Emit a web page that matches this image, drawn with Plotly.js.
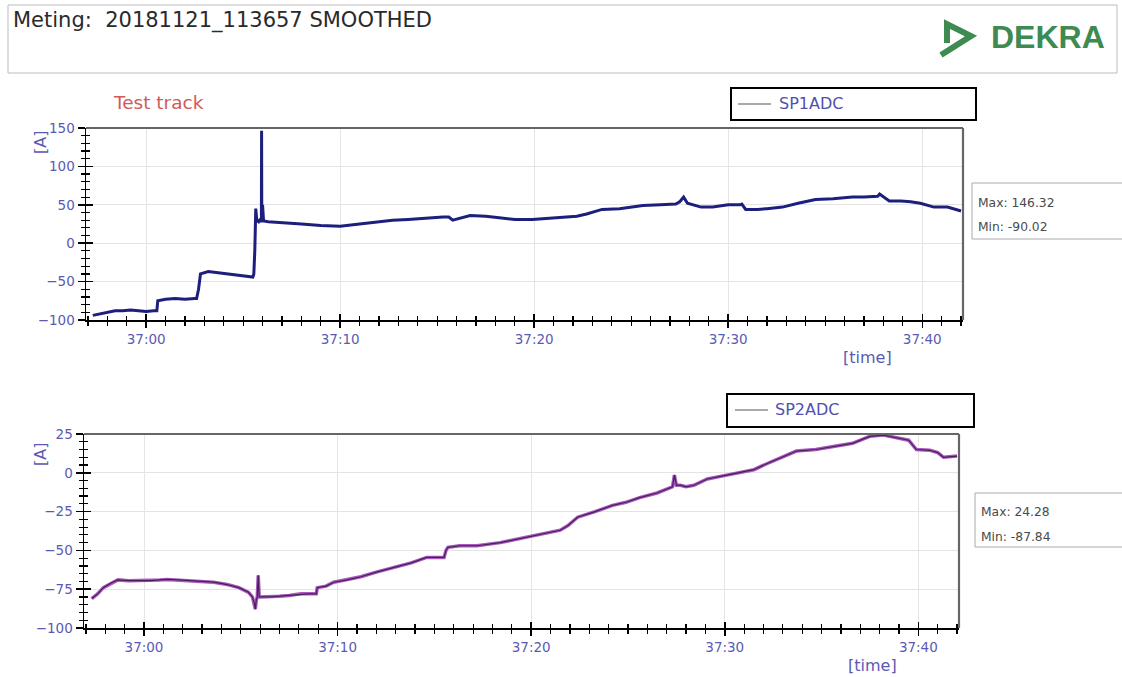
<!DOCTYPE html>
<html>
<head>
<meta charset="utf-8">
<script src="https://cdn.plot.ly/plotly-3.0.1.min.js"></script>
<style>
html,body{margin:0;padding:0;background:#fff;}
#chart{width:1122px;height:677px;}
</style>
</head>
<body>
<div id="chart"></div>
<script>
// ---- data (seconds relative to 11:37:00, values in A) ----
var sp1Time = [-2.75,-2.4,-2.0,-1.6,-1.2,-0.8,-0.4,0.0,0.4,0.55,0.6,1.0,1.5,2.0,2.5,2.6,2.7,2.8,3.2,3.8,4.4,5.0,5.5,5.55,5.6,5.65,5.7,5.8,5.85,5.9,5.94,5.95,5.96,6.0,6.05,6.3,7.0,8.0,9.0,10.0,11.0,12.0,12.7,13.5,14.5,15.3,15.6,15.8,16.7,17.5,18.2,19.0,19.9,21.0,21.7,22.2,22.7,23.5,24.4,25.0,25.6,26.5,27.3,27.5,27.7,27.9,28.6,29.2,30.0,30.6,30.7,30.9,31.5,32.0,32.8,33.6,34.5,35.4,36.4,37.0,37.7,37.8,38.3,38.9,39.4,39.9,40.6,41.3,42.0];
var sp1Values = [-94,-92,-90,-88,-88,-87,-88,-89,-88,-88,-75,-73,-72,-73,-72,-72,-60,-40,-37,-39,-41,-43,-44,-40,-10,45,30,28,30,29,29,146.32,29,50,29,28,27,25,23,22,25,28,30,31,33,34,34,30,36,35,33,31,31,33,34,35,38,44,45,47,49,50,51,54,60,52,47,47,50,50,51,44,44,45,47,52,57,58,60,60,61,64,55,55,54,52,47,47,42,43];

var sp2Time = [-2.7,-2.4,-2.1,-1.7,-1.35,-0.8,0.0,0.35,0.8,1.2,1.8,2.4,2.9,3.6,4.3,4.9,5.4,5.6,5.7,5.75,5.8,5.85,5.9,5.95,6.0,6.5,7.0,7.5,8.1,8.5,8.9,8.95,9.4,9.8,10.5,11.2,12.0,12.9,13.8,14.6,15.5,15.6,15.7,16.3,17.2,18.4,19.2,19.9,20.8,21.5,21.9,22.4,23.3,24.2,24.9,25.6,26.5,27.3,27.4,27.5,27.7,28.0,28.4,29.1,30.1,30.9,31.5,32.2,33.0,33.7,34.7,35.6,36.6,37.2,37.5,38.2,39.0,39.5,39.9,40.6,41.0,41.3,42.0];
var sp2Values = [-81,-78,-74,-71,-69,-69.5,-69.5,-69.5,-69,-68.7,-69,-69.5,-70,-70.5,-72,-74,-77,-80,-84,-87.84,-82,-80,-66,-80,-80,-80,-79.5,-79,-78,-78,-78,-74,-73,-70.5,-69,-67,-64,-61,-58,-54.5,-54.5,-50,-48,-47,-47,-45,-43,-41,-39,-37,-34,-28.6,-25,-21,-19,-16,-13,-9,-1.5,-8,-8,-9,-8,-4,-1.5,0.4,2,6,10,14,15,17,19,22,23.5,24.28,22,21,15,14.5,13,10,10.8];

var seriesNames = ['SP1ADC','SP2ADC'];
var statsText1 = ['Max: 146.32','Min: -90.02'];
var statsText2 = ['Max: 24.28','Min: -87.84'];
var titleText = 'Meting:  20181121_113657 SMOOTHED';

// ---- helpers ----
function fmt(t){
  var total = 37*60 + t;
  var m = Math.floor(total/60);
  var s = total - 60*m;
  return '2018-11-21 11:' + (m<10?'0':'') + m + ':' + (s<10?'0':'') + s.toFixed(3);
}
var W = 1122, H = 677;
function px(x){ return x / W; }
function py(y){ return 1 - y / H; }

var xRange = [fmt(-3.1), fmt(42.1)];
var blue = '#5a5ab4';
var font = 'DejaVu Sans, Liberation Sans, Arial, sans-serif';

var traces = [
  {x: sp1Time.map(fmt), y: sp1Values, type:'scatter', mode:'lines', xaxis:'x', yaxis:'y',
   line:{color:'#1c1f7c', width:3}, showlegend:false, hoverinfo:'skip'},
  {x: sp2Time.map(fmt), y: sp2Values, type:'scatter', mode:'lines', xaxis:'x2', yaxis:'y2',
   line:{color:'#a65bbd', width:3.5}, showlegend:false, hoverinfo:'skip'},
  {x: sp2Time.map(fmt), y: sp2Values, type:'scatter', mode:'lines', xaxis:'x2', yaxis:'y2',
   line:{color:'#4d1c5c', width:1.2}, showlegend:false, hoverinfo:'skip'},
  {x:[null], y:[null], xaxis:'x3', yaxis:'y3', type:'scatter', mode:'lines', showlegend:false, hoverinfo:'skip'},
  {x:[null], y:[null], xaxis:'x4', yaxis:'y4', type:'scatter', mode:'lines', showlegend:false, hoverinfo:'skip'}
];

function xAxisBase(domain, anchor, ticksDir, main){
  return {
    type:'date', range:xRange, domain:domain, anchor:anchor,
    tick0:'2018-11-21 11:37:00', dtick:10000, tickformat:'%M:%S',
    ticks:ticksDir, ticklen:6, tickwidth:1.5, tickcolor:'#000',
    minor:{dtick:1000, ticks:ticksDir, ticklen:4, tickwidth:1.2, tickcolor:'#000', showgrid:false},
    showgrid: main, gridcolor:'#e4e4e4', gridwidth:1,
    showline: main, linecolor:'#000', linewidth:1.5,
    showticklabels: main, tickfont:{family:font, size:13.5, color:blue},
    zeroline:false, fixedrange:true
  };
}
function yAxisBase(domain, anchor, range, dtick, mdtick, ticksDir, main){
  return {
    range:range, domain:domain, anchor:anchor, dtick:dtick, tick0:0,
    ticks:ticksDir, ticklen:7, tickwidth:1.5, tickcolor:'#000',
    minor:{dtick:mdtick, ticks:ticksDir, ticklen:4, tickwidth:1.2, tickcolor:'#000', showgrid:false},
    showgrid: main, gridcolor:'#e4e4e4', gridwidth:1,
    showline: main, linecolor:'#000', linewidth:1.5,
    showticklabels: main, tickfont:{family:font, size:13.5, color:blue},
    zeroline:false, fixedrange:true
  };
}

var topX = [px(86), px(963)], topY = [py(320), py(128)];
var botX = [px(84), px(959)], botY = [py(628), py(434)];

var layout = {
  width:W, height:H, margin:{l:0,r:0,t:0,b:0},
  paper_bgcolor:'#fff', plot_bgcolor:'#fff', showlegend:false,
  xaxis: xAxisBase(topX, 'y', 'outside', true),
  yaxis: yAxisBase(topY, 'x', [-100,150], 50, 10, 'outside', true),
  xaxis2: xAxisBase(botX, 'y2', 'outside', true),
  yaxis2: yAxisBase(botY, 'x2', [-100,25], 25, 5, 'outside', true),
  shapes: [], annotations: []
};
var x3 = xAxisBase(topX, 'y3', 'inside', false); x3.overlaying = 'x';
var y3 = yAxisBase(topY, 'x3', [-100,150], 50, 10, 'inside', false); y3.overlaying = 'y';
var x4 = xAxisBase(botX, 'y4', 'inside', false); x4.overlaying = 'x2';
var y4 = yAxisBase(botY, 'x4', [-100,25], 25, 5, 'inside', false); y4.overlaying = 'y2';
layout.xaxis3 = x3; layout.yaxis3 = y3; layout.xaxis4 = x4; layout.yaxis4 = y4;

var S = layout.shapes, A = layout.annotations;
function rect(x0,y0,x1,y1,color,w){
  S.push({type:'rect', xref:'paper', yref:'paper', x0:px(x0), x1:px(x1), y0:py(y1), y1:py(y0),
          line:{color:color, width:w}, fillcolor:'rgba(0,0,0,0)', layer:'above'});
}
function seg(x0,y0,x1,y1,color,w){
  S.push({type:'line', xref:'paper', yref:'paper', x0:px(x0), x1:px(x1), y0:py(y0), y1:py(y1),
          line:{color:color, width:w}, layer:'above'});
}
function txt(x,y,text,size,color,xanchor,extra,fam){
  var a = {xref:'paper', yref:'paper', x:px(x), y:py(y), text:text, showarrow:false,
           xanchor:xanchor||'left', yanchor:'middle', font:{family:fam||font, size:size, color:color}};
  if(extra){ for(var k in extra){ a[k]=extra[k]; } }
  A.push(a);
}

// plot frames (top & right edges, dark gray)
seg(86,128,963,128,'#666',2.2); seg(963,128,963,320,'#666',2.2);
seg(84,434,959,434,'#666',2.2); seg(959,434,959,628,'#666',2.2);

// header box
rect(8,5,1117,73,'#bdbdbd',1);
txt(11,21,titleText,21,'#2a2a2a','left');
// DEKRA logo
S.push({type:'path', xref:'paper', yref:'paper', layer:'above',
  path:'M '+px(947)+' '+py(43)+' L '+px(947)+' '+py(24)+' L '+px(971)+' '+py(36)+' L '+px(941)+' '+py(55),
  line:{color:'#3f8a50', width:6}});
txt(1048,37,'<b>DEKRA</b>',32,'#3f8a50','center',null,'Liberation Sans, Arial, sans-serif');

// "Test track"
txt(111,103,'Test track',18.5,'#d05a5a','left');

// y-axis titles
txt(40,143,'[A]',16,blue,'center',{textangle:-90});
txt(40,455,'[A]',16,blue,'center',{textangle:-90});
// x-axis titles
txt(867,357,'[time]',16,blue,'center');
txt(872,665,'[time]',16,blue,'center');

// legend boxes
rect(731,88,976,120,'#000',2);
seg(738,104,771,104,'#555',1.2);
txt(777,104,seriesNames[0],16,'#5050b0','left');
rect(727,394,974,427,'#000',2);
seg(735,410,768,410,'#555',1.2);
txt(773,410,seriesNames[1],16,'#5050b0','left');

// stats boxes
rect(972,183,1130,239,'#aaa',1);
txt(976,203,statsText1[0],12.3,'#4a4a4a','left');
txt(976,227,statsText1[1],12.3,'#4a4a4a','left');
rect(975,493,1130,547,'#aaa',1);
txt(979,512,statsText2[0],12.3,'#4a4a4a','left');
txt(979,537,statsText2[1],12.3,'#4a4a4a','left');

Plotly.newPlot('chart', traces, layout, {staticPlot:true, displayModeBar:false});
</script>
</body>
</html>
